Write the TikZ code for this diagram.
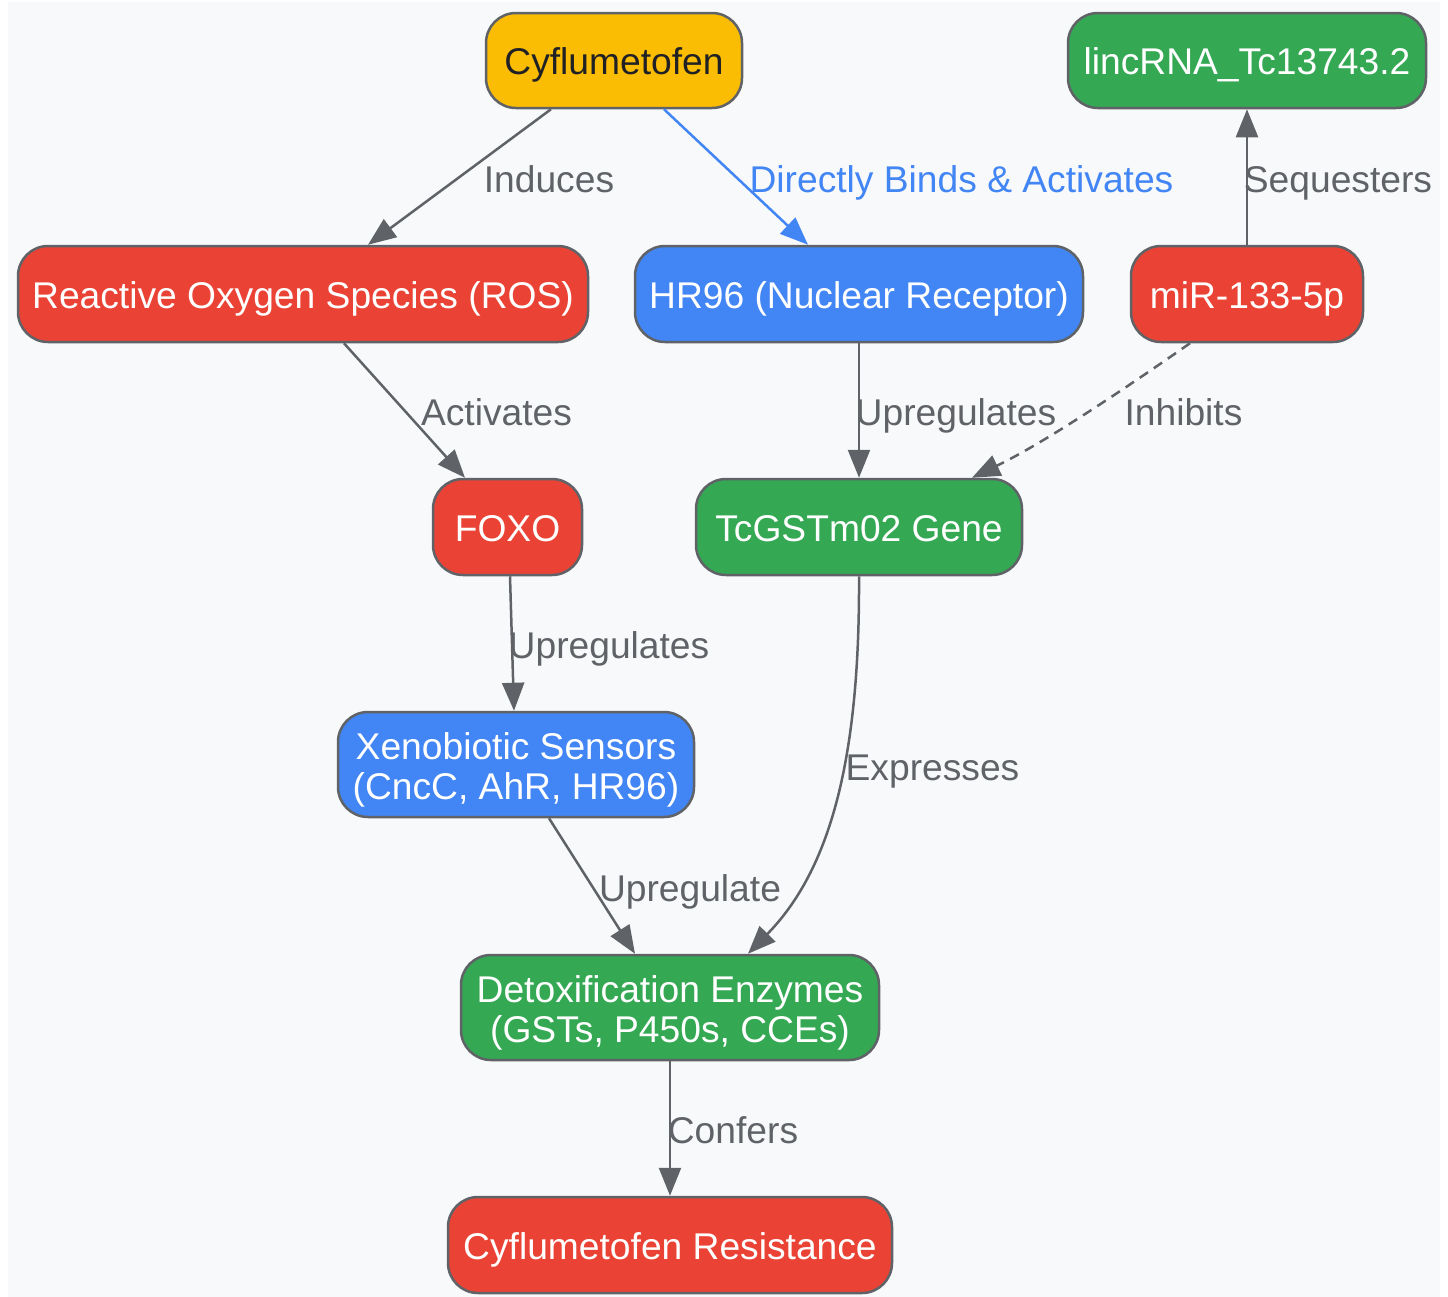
\documentclass[tikz,border=0pt]{standalone}
\usepackage{fontspec}
\setmainfont{Liberation Sans}
\usetikzlibrary{arrows.meta}
\definecolor{cred}{HTML}{EA4335}
\definecolor{cblue}{HTML}{4285F4}
\definecolor{cgreen}{HTML}{34A853}
\definecolor{cyellow}{HTML}{FBBC04}
\definecolor{cgray}{HTML}{5F6368}
\definecolor{cdark}{HTML}{202124}
\definecolor{cbg}{HTML}{F8F9FA}
\begin{document}
\begin{tikzpicture}[x=0.5pt,y=-0.5pt,
  box/.style={draw=cgray, line width=1.25pt, rounded corners=15pt, inner sep=0pt,
    text=white, font=\fontsize{18.6}{20}\selectfont, align=center,
    text height=17pt, text depth=3pt},
  twoline/.style={text height=37.5pt, text depth=3pt},
  lbl/.style={inner sep=0pt, anchor=base, text=cgray, font=\fontsize{18.6}{20}\selectfont},
  edge/.style={draw=cgray, line width=1.25pt, -{Triangle[length=14pt,width=11pt]}},
]
\useasboundingbox (0,0) rectangle (1448,1297);
\fill[cbg] (8,2) rectangle (1440,1297);

% nodes
\node[box, fill=cyellow, text=cdark, minimum width=128pt, minimum height=47.5pt] (cyf) at (614,60.5) {Cyflumetofen};
\node[box, fill=cgreen, minimum width=179pt, minimum height=47.5pt] (linc) at (1247,60.5) {lincRNA\_Tc13743.2};
\node[box, fill=cred, minimum width=285pt, minimum height=48pt] (ros) at (303,294) {Reactive Oxygen Species (ROS)};
\node[box, fill=cblue, minimum width=224pt, minimum height=48pt] (hr) at (859,294) {HR96 (Nuclear Receptor)};
\node[box, fill=cred, minimum width=116pt, minimum height=48pt] (mir) at (1247,294) {miR-133-5p};
\node[box, fill=cred, minimum width=74.5pt, minimum height=48pt] (foxo) at (507.5,527) {FOXO};
\node[box, fill=cgreen, minimum width=163pt, minimum height=48pt] (gst) at (859,527) {TcGSTm02 Gene};
\node[box, twoline, fill=cblue, minimum width=178pt, minimum height=52.5pt] (xeno) at (516,764.5) {Xenobiotic Sensors\\(CncC, AhR, HR96)};
\node[box, twoline, fill=cgreen, minimum width=209pt, minimum height=52.5pt] (detox) at (670,1007.5) {Detoxification Enzymes\\(GSTs, P450s, CCEs)};
\node[box, fill=cred, minimum width=222pt, minimum height=48pt] (res) at (670,1245) {Cyflumetofen Resistance};

% connectors
\draw[edge] ([xshift=-31.5pt]cyf.south) -- ([xshift=32.5pt]ros.north);
\draw[edge, draw=cblue, color=cblue] ([xshift=25pt]cyf.south) -- ([xshift=-25.5pt]hr.north);
\draw[edge] (mir.north) -- (linc.south);
\draw[edge] ([xshift=20.5pt]ros.south) -- ([xshift=-21.25pt]foxo.north);
\draw[edge] (hr.south) -- (gst.north);
\draw[edge, dash pattern=on 5pt off 3.5pt] ([xshift=-28.5pt]mir.south) .. controls (1140,378) and (1050,440) .. ([xshift=56.5pt]gst.north);
\draw[edge] ([xshift=1.25pt]foxo.south) -- ([xshift=-1pt]xeno.north);
\draw[edge] (gst.south) .. controls (860,760) and (830,870) .. ([xshift=39pt]detox.north);
\draw[edge] ([xshift=16.5pt]xeno.south) -- ([xshift=-17.5pt]detox.north);
\draw[edge] (detox.south) -- (res.north);

% labels
\node[lbl] (l1) at (549,192) {Induces};
\node[lbl, text=cblue] (l2) at (961.5,192) {Directly Binds \& Activates};
\node[lbl] (l3) at (1338,192) {Sequesters};
\node[lbl] (l4) at (496.5,425) {Activates};
\node[lbl] (l5) at (956,425) {Upregulates};
\node[lbl] (l6) at (1183.5,425) {Inhibits};
\node[lbl] (l7) at (609,658) {Upregulates};
\node[lbl] (l8) at (932.5,780) {Expresses};
\node[lbl] (l9) at (690,901) {Upregulate};
\node[lbl] (l10) at (733,1143) {Confers};
\end{tikzpicture}
\end{document}
